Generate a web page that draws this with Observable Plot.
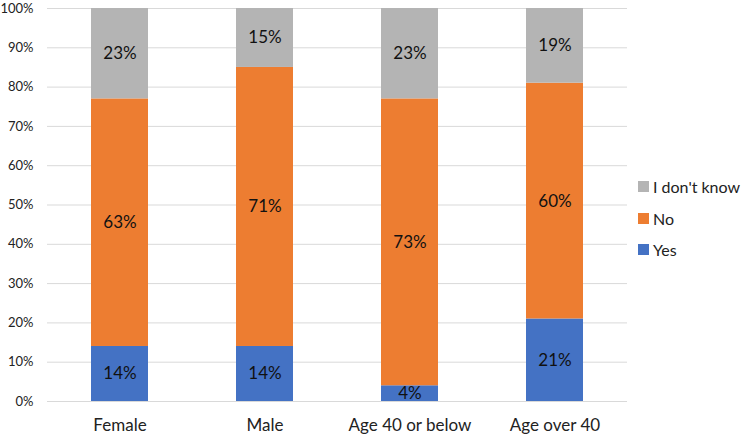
<!DOCTYPE html>
<html>
<head>
<meta charset="utf-8">
<script src="https://cdn.jsdelivr.net/npm/d3@7"></script>
<script src="https://cdn.jsdelivr.net/npm/@observablehq/plot@0.6"></script>
<style>
  html, body { margin: 0; padding: 0; background: #fff; }
  #wrap { position: relative; width: 744px; height: 438px; font-family: Lato, sans-serif; }
  #legend { position: absolute; left: 638px; top: 171px; font-size: 16px; color: #222; white-space: nowrap; }
  .item { display: flex; align-items: center; height: 31.5px; }
  .sw { width: 11px; height: 11px; margin-right: 4px; flex: none; }
</style>
</head>
<body>
<div id="wrap"></div>
<script>
const categories = ["Female", "Male", "Age 40 or below", "Age over 40"];
const series = ["Yes", "No", "I don't know"];
const yesValues = [14, 14, 4, 21];
const noValues = [63, 71, 73, 60];
const dontKnowValues = [23, 15, 23, 19];
const colors = ["#4472C4", "#ED7D31", "#B4B4B4"];
const yTicks = [0, 10, 20, 30, 40, 50, 60, 70, 80, 90, 100];

const valuesBySeries = [yesValues, noValues, dontKnowValues];
const data = [];
series.forEach((s, si) => {
  categories.forEach((c, ci) => {
    data.push({category: c, series: s, value: valuesBySeries[si][ci]});
  });
});

const chart = Plot.plot({
  width: 744,
  height: 438,
  marginLeft: 47,
  marginRight: 117,
  marginTop: 8,
  marginBottom: 37,
  style: {fontFamily: "Lato, sans-serif", background: "#fff"},
  x: {domain: categories, paddingInner: 0.607, paddingOuter: 0.3035, label: null},
  y: {domain: [0, 100], label: null},
  color: {domain: series, range: colors},
  marks: [
    Plot.gridY(yTicks, {stroke: "#d9d9d9", strokeOpacity: 1, strokeWidth: 1}),
    Plot.barY(data, Plot.stackY({x: "category", y: "value", fill: "series", order: series})),
    Plot.text(data, Plot.stackY({x: "category", y: "value", z: "series", order: series,
      text: d => d.value + "%", fontSize: 17, fill: "#111"})),
    Plot.axisY(yTicks, {tickSize: 0, tickPadding: 14, fontSize: 13, tickFormat: d => d + "%", fill: "#222"}),
    Plot.axisX({tickSize: 0, tickPadding: 17, fontSize: 17, fill: "#222"})
  ]
});
document.getElementById("wrap").appendChild(chart);

const legend = document.createElement("div");
legend.id = "legend";
[2, 1, 0].forEach(i => {
  const item = document.createElement("div");
  item.className = "item";
  const sw = document.createElement("div");
  sw.className = "sw";
  sw.style.background = colors[i];
  const label = document.createElement("span");
  label.textContent = series[i];
  item.appendChild(sw);
  item.appendChild(label);
  legend.appendChild(item);
});
document.getElementById("wrap").appendChild(legend);
</script>
</body>
</html>
